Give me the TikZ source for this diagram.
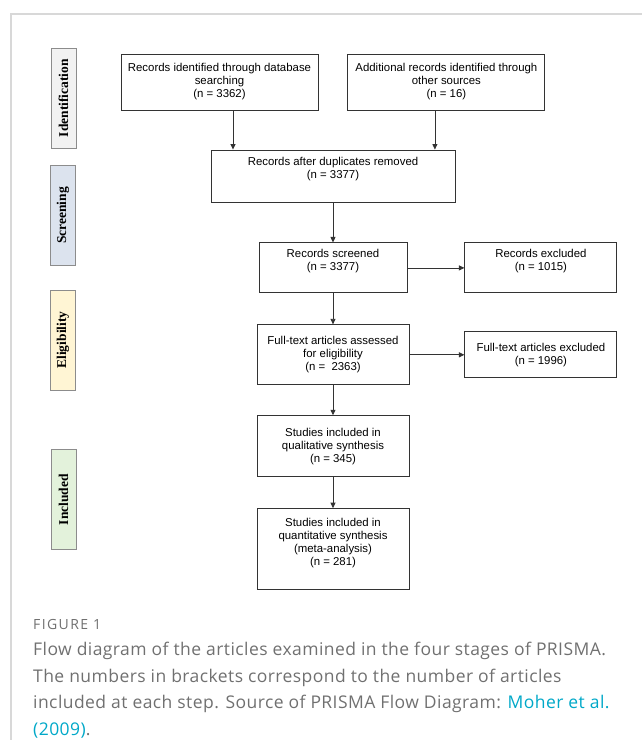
\documentclass[tikz,border=0pt]{standalone}
\usepackage{fontspec}
\setmainfont{Liberation Sans}
\newfontfamily\stagefont{Liberation Serif}
\newfontfamily\capfont[LetterSpace=2.5]{Open Sans}
\newfontfamily\figfont[LetterSpace=10]{Open Sans}
\RequirePackage{xcolor}
\definecolor{idgray}{RGB}{242,242,242}
\definecolor{scrblue}{RGB}{220,227,238}
\definecolor{eligyellow}{RGB}{255,245,212}
\definecolor{inclgreen}{RGB}{227,242,219}
\definecolor{capgray}{RGB}{112,112,112}
\definecolor{linkcyan}{RGB}{0,168,200}
\definecolor{framegray}{RGB}{216,216,216}
\usetikzlibrary{positioning}
\usetikzlibrary{arrows.meta}

\begin{document}
\begin{tikzpicture}[x=1pt, y=-1pt,
  flowbox/.style={draw=black!80, line width=0.9pt, align=center, inner sep=2pt,
    font=\fontsize{11.4}{13}\selectfont},
  stagebox/.style={draw=black!45, line width=0.9pt, rotate=90, minimum width=100pt,
    minimum height=25pt, inner sep=0pt, font=\stagefont\bfseries\fontsize{13.5}{15}\selectfont},
  flowarrow/.style={-{Triangle[width=5pt,length=5.5pt]}, line width=0.8pt, black!80}]
  \useasboundingbox (0,0) rectangle (643,740);

  % frame of the figure
  \draw [framegray, line width=1.2pt] (11,740) -- (11,14) -- (642,14);

  % stages
  \node [stagebox, fill=idgray] (ident) at (63.5,98) {Identification};
  \node [stagebox, fill=scrblue] (screen) at (63,215.5) {Screening};
  \node [stagebox, fill=eligyellow] (elig) at (63,340) {Eligibility};
  \node [stagebox, fill=inclgreen] (incl) at (63.5,499.5) {Included};

  % flow boxes
  \node [flowbox, minimum width=197pt, minimum height=56pt] (recdb) at (219.5,82)
    {Records identified through database\\searching\\(n = 3362)};
  \node [flowbox, minimum width=197pt, minimum height=56pt, right=29pt of recdb] (recother)
    {Additional records identified through\\other sources\\(n = 16)};
  \node [flowbox, minimum width=244pt, minimum height=52pt] (dedup) at (333,176)
    {Records after duplicates removed\\(n = 3377)\\[4pt]};
  \node [flowbox, minimum width=148pt, minimum height=50pt, below=40pt of dedup] (screened)
    {Records screened\\(n = 3377)\\[4pt]};
  \node [flowbox, minimum width=152pt, minimum height=50pt, right=57pt of screened] (excl)
    {Records excluded\\(n = 1015)\\[4pt]};
  \node [flowbox, minimum width=152pt, minimum height=60pt, below=31pt of screened] (fulltext)
    {Full-text articles assessed\\for eligibility\\(n = ~2363)};
  \node [flowbox, minimum width=152pt, minimum height=46pt, right=55pt of fulltext] (ftexcl)
    {Full-text articles excluded\\(n = 1996)};
  \node [flowbox, minimum width=152pt, minimum height=61pt, below=30pt of fulltext] (qual)
    {Studies included in\\qualitative synthesis\\(n = 345)};
  \node [flowbox, minimum width=152pt, minimum height=81pt, below=31pt of qual] (quant)
    {Studies included in\\quantitative synthesis\\(meta-analysis)\\(n = 281)\\[2pt]};

  \draw [flowarrow] ([xshift=13.5pt]recdb.south) -- ([xshift=13.5pt]recdb.south |- dedup.north);
  \draw [flowarrow] ([xshift=-11.5pt]recother.south) -- ([xshift=-11.5pt]recother.south |- dedup.north);
  \draw [flowarrow] (dedup) -- (screened);
  \draw [flowarrow] (screened) -- (excl);
  \draw [flowarrow] (screened) -- (fulltext);
  \draw [flowarrow] (fulltext) -- (ftexcl);
  \draw [flowarrow] (fulltext) -- (qual);
  \draw [flowarrow] (qual) -- (quant);

  % caption
  \node [anchor=base west, inner sep=0pt, text=capgray, font=\figfont\fontsize{14}{16}\selectfont]
    (figlabel) at (33,629) {FIGURE 1};
  \node [anchor=north west, inner sep=0pt, align=left, text=capgray,
    font=\capfont\fontsize{17.5}{26.5}\selectfont] (figcaption) at (33,642)
    {Flow diagram of the articles examined in the four stages of PRISMA.\\
     The numbers in brackets correspond to the number of articles\\
     included at each step. Source of PRISMA Flow Diagram: \textcolor{linkcyan}{Moher et al.}\\
     \textcolor{linkcyan}{(2009)}.};
\end{tikzpicture}
\end{document}
